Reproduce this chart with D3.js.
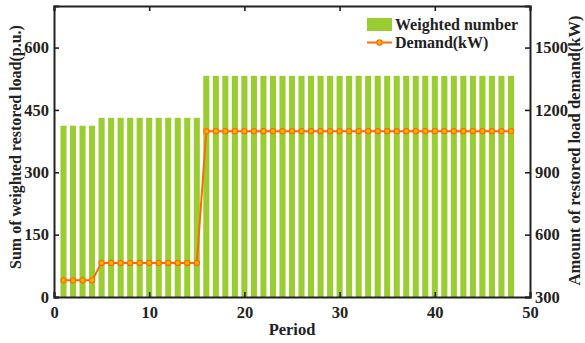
<!DOCTYPE html>
<html>
<head>
<meta charset="utf-8">
<script src="https://cdn.jsdelivr.net/npm/d3@7/dist/d3.min.js"></script>
<style>
  body { margin: 0; background: #fff; }
  text { font-family: "Liberation Serif", "Times New Roman", serif; font-weight: bold; fill: #222; }
</style>
</head>
<body>
<svg id="chart" width="585" height="343"></svg>
<script>
// Periods 1..48
const periods = d3.range(1, 49);
// Sum of weighted restored load (p.u.) per period
const weighted = [
  412, 412, 412, 412,
  431, 431, 431, 431, 431, 431, 431, 431, 431, 431, 431,
  532, 532, 532, 532, 532, 532, 532, 532, 532, 532, 532,
  532, 532, 532, 532, 532, 532, 532, 532, 532, 532, 532,
  532, 532, 532, 532, 532, 532, 532, 532, 532, 532, 532
];
// Restored load demand (kW) per period
const demand = [
  380, 380, 380, 380,
  464, 464, 464, 464, 464, 464, 464, 464, 464, 464, 464,
  1098, 1098, 1098, 1098, 1098, 1098, 1098, 1098, 1098, 1098, 1098,
  1098, 1098, 1098, 1098, 1098, 1098, 1098, 1098, 1098, 1098, 1098,
  1098, 1098, 1098, 1098, 1098, 1098, 1098, 1098, 1098, 1098, 1098
];
const xTicks = [0, 10, 20, 30, 40, 50];
const leftTicks = [0, 150, 300, 450, 600];
const rightTicks = [300, 600, 900, 1200, 1500];

const svg = d3.select("#chart");
const m = { left: 54, right: 530, top: 6, bottom: 297 };

const x = d3.scaleLinear().domain([0, 50]).range([m.left, m.right]);
const yL = d3.scaleLinear().domain([0, 700]).range([m.bottom, m.top]);
const yR = d3.scaleLinear().domain([300, 1700]).range([m.bottom, m.top]);

const barColor = "#9ACD32";
const lineColor = "#FF6A00";
const markFill = "#FFB200";
const barW = x(0.64) - x(0);

// bars
svg.append("g").selectAll("rect").data(periods).join("rect")
  .attr("x", (d) => x(d) - barW / 2)
  .attr("width", barW)
  .attr("y", (d, i) => yL(weighted[i]))
  .attr("height", (d, i) => yL(0) - yL(weighted[i]))
  .attr("fill", barColor);

// demand line
const line = d3.line().x((d) => x(d)).y((d, i) => yR(demand[i]));
svg.append("path").datum(periods)
  .attr("d", line)
  .attr("fill", "none")
  .attr("stroke", lineColor)
  .attr("stroke-width", 2);
svg.append("g").selectAll("circle").data(periods).join("circle")
  .attr("cx", (d) => x(d))
  .attr("cy", (d, i) => yR(demand[i]))
  .attr("r", 2.6)
  .attr("fill", markFill)
  .attr("stroke", lineColor)
  .attr("stroke-width", 1.2);

// axes (ticks inward)
const fs = "16.5px";
const axB = svg.append("g").attr("transform", `translate(0,${m.bottom})`)
  .call(d3.axisBottom(x).tickValues(xTicks).tickSize(-5).tickPadding(9).tickFormat(d3.format("d")));
const axT = svg.append("g").attr("transform", `translate(0,${m.top})`)
  .call(d3.axisTop(x).tickValues(xTicks).tickSize(-5).tickFormat(""));
const axL = svg.append("g").attr("transform", `translate(${m.left},0)`)
  .call(d3.axisLeft(yL).tickValues(leftTicks).tickSize(-5).tickPadding(5).tickFormat(d3.format("d")));
const axR = svg.append("g").attr("transform", `translate(${m.right},0)`)
  .call(d3.axisRight(yR).tickValues(rightTicks).tickSize(-5).tickPadding(5).tickFormat(d3.format("d")));

[axB, axT, axL, axR].forEach((g) => {
  g.select(".domain").attr("stroke", "#222").attr("stroke-width", 2);
  g.selectAll(".tick line").attr("stroke", "#222").attr("stroke-width", 1.6);
  g.selectAll(".tick text").style("font-family", '"Liberation Serif", serif')
    .style("font-weight", "bold").style("font-size", fs).attr("fill", "#222");
});

// axis titles
svg.append("text")
  .attr("transform", "translate(21,147) rotate(-90)")
  .attr("text-anchor", "middle").attr("font-size", 16)
  .text("Sum of weighted restored load(p.u.)");
svg.append("text")
  .attr("transform", "translate(580,150.5) rotate(-90)")
  .attr("text-anchor", "middle").attr("font-size", 16.5)
  .text("Amount of restored load demand(kW)");
svg.append("text")
  .attr("x", (m.left + m.right) / 2).attr("y", 335)
  .attr("text-anchor", "middle").attr("font-size", 16.5)
  .text("Period");

// legend
const lg = svg.append("g").attr("transform", "translate(367,18)");
lg.append("rect").attr("x", 0).attr("y", 0).attr("width", 25).attr("height", 13).attr("fill", barColor);
lg.append("text").attr("x", 28).attr("y", 12).attr("font-size", 16).text("Weighted number");
lg.append("line").attr("x1", 0).attr("x2", 25).attr("y1", 24.5).attr("y2", 24.5)
  .attr("stroke", lineColor).attr("stroke-width", 2);
lg.append("circle").attr("cx", 12.5).attr("cy", 24.5).attr("r", 2.6)
  .attr("fill", markFill).attr("stroke", lineColor).attr("stroke-width", 1.2);
lg.append("text").attr("x", 28).attr("y", 30).attr("font-size", 16).text("Demand(kW)");
</script>
</body>
</html>
